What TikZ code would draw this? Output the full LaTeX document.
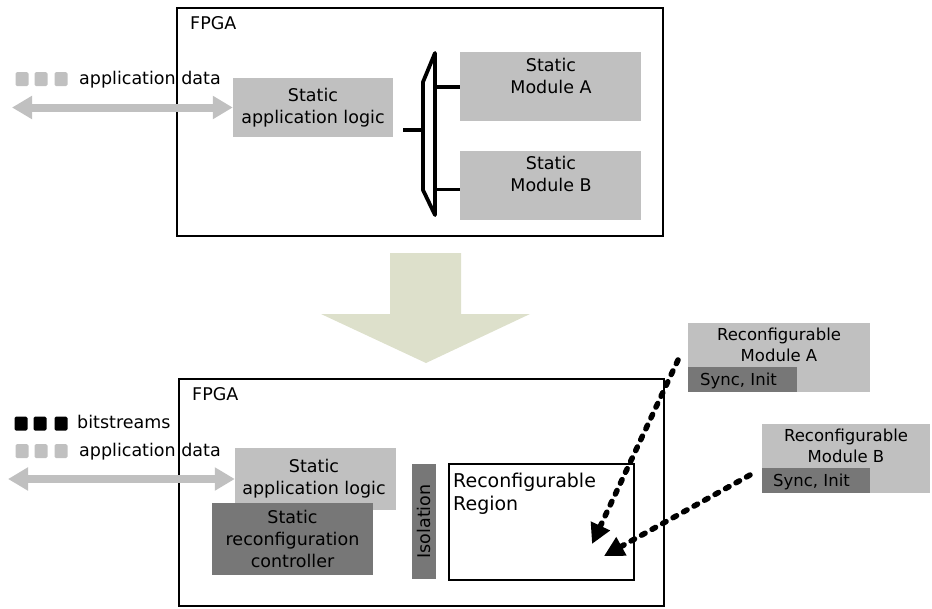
\documentclass[tikz,border=0pt]{standalone}
\usepackage{fontspec}
\setmainfont{DejaVu Sans}
\usetikzlibrary{arrows.meta}
\definecolor{lgray}{HTML}{C0C0C0}
\definecolor{dgray}{HTML}{777777}
\definecolor{bigarr}{HTML}{DDE0CB}
\begin{document}
\begin{tikzpicture}[x=1pt,y=-1pt,
  fpgabox/.style={draw=black,line width=2pt,inner sep=0,fill=white},
  lbox/.style={fill=lgray,inner sep=0,align=center,font=\fontsize{17.5}{22}\selectfont},
  dbox/.style={fill=dgray,inner sep=0,align=center,font=\fontsize{17.5}{22}\selectfont},
  txt/.style={inner sep=0,font=\fontsize{17.5}{22}\selectfont},
  rmtxt/.style={inner sep=0,align=center,font=\fontsize{16.5}{21}\selectfont},
  sq/.style={inner sep=0,minimum width=13pt,minimum height=14pt,rounded corners=1.5pt},
  dblarrow/.style={draw=lgray,line width=8pt,{Triangle[width=22pt,length=20pt]}-{Triangle[width=22pt,length=20pt]}},
  wire/.style={line width=3.8pt},
  dasharrow/.style={line width=5.5pt,line cap=round,dash pattern=on 4pt off 8pt,-{Triangle[width=20pt,length=20pt]}}
]
\useasboundingbox (0,0) rectangle (932,608);

% ---------- top FPGA ----------
\node[fpgabox,minimum width=486pt,minimum height=228pt] (fpga1) at (420,122) {};
\node[txt,anchor=base west] (fpga1lbl) at (190,29) {FPGA};

\node[sq,fill=lgray] (tsq1) at (22,79) {};
\node[sq,fill=lgray] (tsq2) at (41,79) {};
\node[sq,fill=lgray] (tsq3) at (61,79) {};
\node[txt,anchor=base west] (tappdata) at (79,84) {application data};

\node[lbox,minimum width=160pt,minimum height=59pt] (sal1) at (313,107.5) {Static\\application logic};
\coordinate (tarrL) at (12,107.5);
\draw[dblarrow] (tarrL) -- (sal1.west);

% multiplexer
\coordinate (mTL) at (423,82);
\coordinate (mTR) at (435,53);
\coordinate (mBR) at (435,215);
\coordinate (mBL) at (423,190);
\draw[wire,line join=round] (mTL) -- (mTR) -- (mBR) -- (mBL) -- cycle;

\node[lbox,minimum width=181pt,minimum height=69pt] (smA) at (550.5,86.5) {};
\node[txt,align=center,anchor=north] (smAt) at (551,58) {Static\\Module A};
\node[lbox,minimum width=181pt,minimum height=69pt] (smB) at (550.5,185.5) {};
\node[txt,align=center,anchor=north] (smBt) at (551,156) {Static\\Module B};

\coordinate (mIn0) at (403,130);
\coordinate (mIn1) at (423,130);
\coordinate (mOA) at (435,87);
\coordinate (mOB) at (435,189.5);
\draw[wire] (mIn0) -- (mIn1);
\draw[wire] (mOA) -- (mOA -| smA.west);
\draw[wire] (mOB) -- (mOB -| smB.west);

% ---------- big arrow ----------
\fill[bigarr] (390,253) -- (461,253) -- (461,314) -- (530,314) -- (426,363) -- (321,314) -- (390,314) -- cycle;

% ---------- bottom FPGA ----------
\node[fpgabox,minimum width=485pt,minimum height=227pt] (fpga2) at (421.5,492.5) {};
\node[txt,anchor=base west] (fpga2lbl) at (192,400) {FPGA};

\node[sq,fill=black] (bsq1) at (21,423.5) {};
\node[sq,fill=black] (bsq2) at (40,423.5) {};
\node[sq,fill=black] (bsq3) at (61,423.5) {};
\node[txt,anchor=base west] (bits) at (77,428) {bitstreams};

\node[sq,fill=lgray] (asq1) at (22,451) {};
\node[sq,fill=lgray] (asq2) at (41,451) {};
\node[sq,fill=lgray] (asq3) at (61,451) {};
\node[txt,anchor=base west] (bappdata) at (79,456) {application data};

\node[lbox,minimum width=161pt,minimum height=62pt] (sal2) at (315.5,478.5) {};
\node[txt,align=center,anchor=north] (sal2t) at (314,459) {Static\\application logic};
\coordinate (barrL) at (8,479);
\draw[dblarrow] (barrL) -- (sal2.west |- barrL);

\node[dbox,minimum width=161pt,minimum height=72pt] (src) at (292.5,539) {Static\\reconfiguration\\controller};

\node[dbox,minimum width=24pt,minimum height=115pt] (iso) at (424,521.5) {};
\node[txt,rotate=90] (isot) at (424,521.5) {Isolation};

\node[draw=black,line width=2pt,fill=white,minimum width=185pt,minimum height=116pt,inner sep=0] (rr) at (541,522) {};
\node[inner sep=0,align=left,anchor=base west,font=\fontsize{19}{23}\selectfont] (rrt) at (453,487) {Reconfigurable};
\node[inner sep=0,align=left,anchor=base west,font=\fontsize{19}{23}\selectfont] (rrt2) at (453,510) {Region};

% ---------- reconfigurable modules ----------
\node[fill=lgray,inner sep=0,minimum width=182pt,minimum height=69pt] (rmA) at (779,357.5) {};
\node[rmtxt,anchor=north] (rmAt) at (779,328) {Reconfigurable\\Module A};
\node[dbox,minimum width=109pt,minimum height=25pt] (syncA) at (742.5,379.5) {};
\node[inner sep=0,anchor=base west,font=\fontsize{16.5}{20}\selectfont] (syncAt) at (700,385) {Sync, Init};

\node[fill=lgray,inner sep=0,minimum width=168pt,minimum height=69pt] (rmB) at (846,458.5) {};
\node[rmtxt,anchor=north] (rmBt) at (846,429) {Reconfigurable\\Module B};
\node[dbox,minimum width=108pt,minimum height=25pt] (syncB) at (816,480.5) {};
\node[inner sep=0,anchor=base west,font=\fontsize{16.5}{20}\selectfont] (syncBt) at (773,486) {Sync, Init};

\coordinate (dA0) at (678,360);
\coordinate (dA1) at (592,544);
\coordinate (dB0) at (750,475);
\coordinate (dB1) at (604,556);
\draw[dasharrow] (dA0) -- (dA1);
\draw[dasharrow] (dB0) -- (dB1);
\end{tikzpicture}
\end{document}
